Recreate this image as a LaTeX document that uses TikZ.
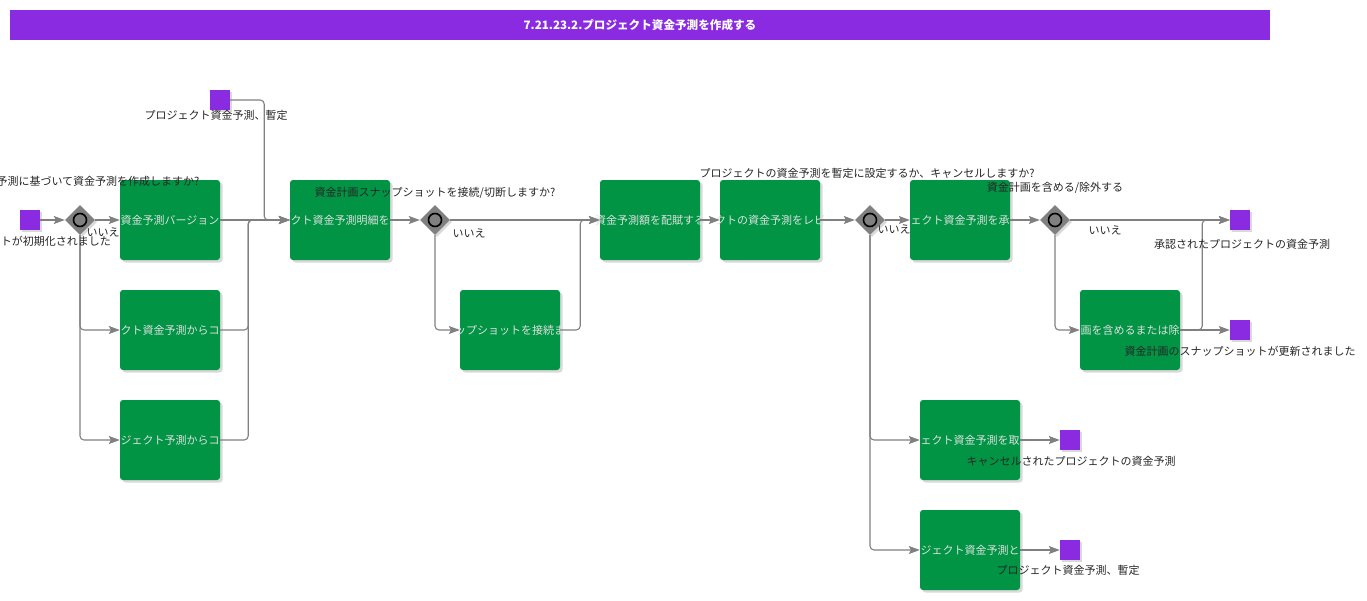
\documentclass[tikz,border=0pt]{standalone}
\usepackage{fontspec}
\setmainfont{Noto Sans CJK JP}
\usetikzlibrary{shapes.geometric,arrows.meta,shadows}
\definecolor{bpurple}{RGB}{138,43,226}
\definecolor{bgreen}{RGB}{0,148,68}
\definecolor{lgray}{RGB}{128,128,128}
\newcommand{\tasktext}[1]{\makebox[96pt][c]{#1}}
\tikzset{
  task/.style={rectangle, rounded corners=3, fill=bgreen, minimum width=100, minimum height=80,
    inner sep=0, text=white!88!black, font=\fontsize{11}{13}\selectfont,
    drop shadow={shadow xshift=2.5pt, shadow yshift=-2.5pt, opacity=.3}},
  event/.style={rectangle, fill=bpurple, minimum size=20, inner sep=0,
    drop shadow={shadow xshift=2pt, shadow yshift=-2pt, opacity=.3}},
  gate/.style={diamond, fill=lgray, minimum width=30, minimum height=30, inner sep=0,
    drop shadow={shadow xshift=2pt, shadow yshift=-2pt, opacity=.3}},
  gatering/.style={circle, fill=lgray, draw=black, line width=1.6pt, minimum size=13, inner sep=0},
  flow/.style={draw=lgray, line width=1.1pt, rounded corners=4, -{Stealth[length=11pt,width=8pt,inset=2pt]}},
  lbl/.style={font=\fontsize{11}{13}\selectfont, text=black!85, inner sep=0},
}
\begin{document}
\begin{tikzpicture}[x=1pt,y=-1pt]
  \useasboundingbox (0,0) rectangle (1367,600);
  \node[fill=bpurple, minimum width=1260, minimum height=30, inner sep=0, text=white,
    font=\fontsize{11.6}{13}\selectfont\bfseries] (title) at (640,25) {7.21.23.2.プロジェクト資金予測を作成する};

  \node[event] (s1) at (30,220) {};
  \node[event] (d1) at (220,100) {};
  \node[gate] (g1) at (80,220) {};
  \node[gatering] at (g1) {};
  \node[task] (t1) at (170,220) {\tasktext{資金予測バージョン}};
  \node[task] (t2) at (170,330) {\tasktext{クト資金予測からコ}};
  \node[task] (t3) at (170,440) {\tasktext{ジェクト予測からコ}};
  \node[task] (t4) at (340,220) {\tasktext{クト資金予測明細を}};
  \node[gate] (g2) at (435,220) {};
  \node[gatering] at (g2) {};
  \node[task] (t6) at (510,330) {\tasktext{ップショットを接続ま}};
  \node[task] (t5) at (650,220) {\tasktext{資金予測額を配賦する}};
  \node[task] (t7) at (770,220) {\tasktext{クトの資金予測をレビ}};
  \node[gate] (g3) at (870,220) {};
  \node[gatering] at (g3) {};
  \node[task] (t8) at (960,220) {\tasktext{ェクト資金予測を承}};
  \node[task] (t9) at (970,440) {\tasktext{ェクト資金予測を取}};
  \node[task] (t10) at (970,550) {\tasktext{ジェクト資金予測と}};
  \node[gate] (g4) at (1055,220) {};
  \node[gatering] at (g4) {};
  \node[task] (t11) at (1130,330) {\tasktext{画を含めるまたは除}};
  \node[event] (e1) at (1240,220) {};
  \node[event] (e2) at (1240,330) {};
  \node[event] (e3) at (1070,440) {};
  \node[event] (e4) at (1070,550) {};

  \draw[flow] (s1) -- (g1);
  \draw[flow] (g1) -- (t1);
  \draw[flow] (g1.south) |- (t2.west);
  \draw[flow] (g1.south) |- (t3.west);
  \draw[flow] (t1) -- (t4);
  \draw[flow] (t2.east) -- ++(28,0) |- (t4.west);
  \draw[flow] (t3.east) -- ++(28,0) |- (t4.west);
  \draw[flow] (d1.east) -- ++(34,0) |- (t4.west);
  \draw[flow] (t4) -- (g2);
  \draw[flow] (g2) -- (t5);
  \draw[flow] (g2.south) |- (t6.west);
  \draw[flow] (t6.east) -- ++(20,0) |- (t5.west);
  \draw[flow] (t5) -- (t7);
  \draw[flow] (t7) -- (g3);
  \draw[flow] (g3) -- (t8);
  \draw[flow] (g3.south) |- (t9.west);
  \draw[flow] (g3.south) |- (t10.west);
  \draw[flow] (t8) -- (g4);
  \draw[flow] (g4) -- (e1);
  \draw[flow] (g4.south) |- (t11.west);
  \draw[flow] (t11) -- (e2);
  \draw[flow] (t11.east) -- ++(22,0) |- (e1.west);
  \draw[flow] (t9) -- (e3);
  \draw[flow] (t10) -- (e4);

  \node[lbl] (s1l) at (56,241) {トが初期化されました};
  \node[lbl] (d1l) at (216,115) {プロジェクト資金予測、暫定};
  \node[lbl] (g1l) at (98,181) {予測に基づいて資金予測を作成しますか?};
  \node[lbl] (g1n) at (103,232) {いいえ};
  \node[lbl] (g2l) at (435,193) {資金計画スナップショットを接続/切断しますか?};
  \node[lbl] (g2n) at (469,233) {いいえ};
  \node[lbl] (g3l) at (867,173) {プロジェクトの資金予測を暫定に設定するか、キャンセルしますか?};
  \node[lbl] (g3n) at (894,229) {いいえ};
  \node[lbl] (g4l) at (1055,188) {資金計画を含める/除外する};
  \node[lbl] (g4n) at (1105,230) {いいえ};
  \node[lbl] (e1l) at (1242,244) {承認されたプロジェクトの資金予測};
  \node[lbl] (e2l) at (1240,351) {資金計画のスナップショットが更新されました};
  \node[lbl] (e3l) at (1071,461) {キャンセルされたプロジェクトの資金予測};
  \node[lbl] (e4l) at (1068,570) {プロジェクト資金予測、暫定};
\end{tikzpicture}
\end{document}
